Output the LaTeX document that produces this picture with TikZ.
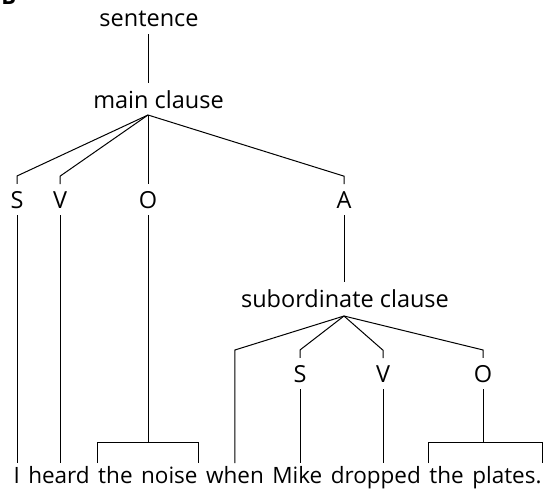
\documentclass[tikz,border=0pt]{standalone}
\usepackage{fontspec}
\setmainfont{Open Sans}
\usetikzlibrary{calc, positioning}

\begin{document}
\begin{tikzpicture}[x=1pt, y=-1pt, line width=1pt,
    phrase/.style={font=\fontsize{22.5}{27}\selectfont, inner sep=0pt},
    cat/.style={phrase, font=\fontsize{23.5}{28}\selectfont, anchor=base, outer ysep=7pt},
    wordnode/.style={phrase, text height=19pt, text depth=5pt, outer ysep=1pt}]
    \useasboundingbox (0,0) rectangle (546,495);

    % Panel letter, cut off at the top
    \node[phrase, font=\fontsize{22}{26}\selectfont\bfseries, anchor=base west] (panel) at (1,5) {B};

    % Clause labels
    \node[cat] (sentence) at (149,27) {sentence};
    \node[cat] (main) at (158.5,108) {main clause};
    \node[cat] (sub) at (345,307) {subordinate clause};
    \coordinate (mainfoot) at (148,115);
    \coordinate (subfoot) at (344,316);

    % Functions
    \foreach \name/\x/\y/\tag in {s1/17/208/S, v1/60/208/V, o1/148/208/O, a1/344/208/A,
                                  s2/300/382/S, v2/383/382/V, o2/483/382/O}
        \node[cat] (\name) at (\x,\y) {\tag};

    % Words
    \node[wordnode, anchor=base west] (w1) at (13,483) {I};
    \foreach \name/\prev/\word in {w2/w1/heard, w3/w2/the, w4/w3/noise, w5/w4/when,
                                   w6/w5/Mike, w7/w6/dropped, w8/w7/the, w9/w8/plates.}
        \node[wordnode, base right=7.5pt of \prev] (\name) {\word};

    % Tree
    \draw (sentence.south -| mainfoot) -- (main.north -| mainfoot);
    \foreach \c in {s1, v1, a1}
        \draw (mainfoot) -- ($(\c.north)+(0,-8)$) -- (\c.north);
    \draw (mainfoot) -- (o1.north);
    \draw (a1.south) -- (sub.north -| a1);
    \foreach \c in {s2, v2, o2}
        \draw (subfoot) -- ($(\c.north)+(0,-8)$) -- (\c.north);
    \draw (subfoot) -- ($(w5.north |- s2.north)+(0,-8)$) -- (w5.north);

    % Down to the words
    \draw (s1.south) -- (s1.south |- w1.north);
    \draw (v1.south) -- (v1.south |- w2.north);
    \draw (s2.south) -- (s2.south |- w6.north);
    \draw (v2.south) -- (v2.south |- w7.north);

    % Brackets over the noun groups
    \draw (w3.north west) -- ++(0,-21) coordinate (nounbar) -| (w4.north east);
    \draw (o1.south) -- (o1.south |- nounbar);
    \draw (w8.north west) -- ++(0,-21) coordinate (platebar) -| (w9.north east);
    \draw (o2.south) -- (o2.south |- platebar);
\end{tikzpicture}
\end{document}
